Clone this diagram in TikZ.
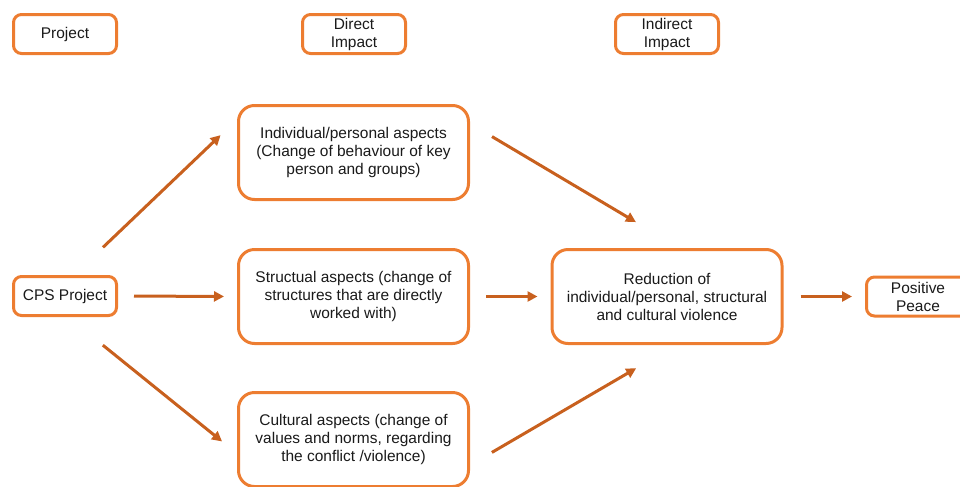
\documentclass[tikz,border=0pt]{standalone}
\usepackage{fontspec}
\setmainfont{Liberation Sans}
\usepackage{tikz}
\usetikzlibrary{calc,arrows.meta}

\definecolor{boxorange}{HTML}{ED7D31}
\definecolor{arroworange}{HTML}{C8601E}
\definecolor{textgray}{HTML}{1A1A1A}

\tikzset{
	box/.style={draw=boxorange, line width=2.25pt, fill=white, rounded corners=6pt, align=center,
		text=textgray, font=\fontsize{11.6}{13.5}\selectfont, inner sep=0pt,
		minimum width=77.25pt, minimum height=29.25pt},
	bigbox/.style={box, rounded corners=12pt, minimum width=172.5pt, minimum height=70.5pt},
	arr/.style={draw=arroworange, line width=2.25pt, -{Triangle[length=7.5pt,width=7.5pt]}}
}

\begin{document}
\begin{tikzpicture}[x=0.75pt,y=-0.75pt]
			\useasboundingbox (0,0) rectangle (960,486);
			
			% column headings
			\node[box] (project) at (65,34) {Project};
			\node[box] (direct) at (354,34) {Direct\\Impact};
			\node[box] (indirect) at (667,34) {Indirect\\Impact};
			
			\node[box] (cps) at (65,296) {CPS Project};
			
			\node[bigbox] (indiv) at (353.5,152.5) {Individual/personal aspects\\(Change of behaviour of key\\person and groups)};
			\node[bigbox] (struct) at (353.5,296.5) {Structual aspects (change of\\structures that are directly\\worked with)};
			\node[bigbox] (cult) at (353.5,439.5) {Cultural aspects (change of\\values and norms, regarding\\the conflict /violence)};
			
			\node[bigbox] (reduct) at (667,296.5) {Reduction of\\individual/personal, structural\\and cultural violence};
			
			\node[box] (peace) at (918,296.5) {Positive\\Peace};
			
			% arrows
			\draw[arr, shorten <=30pt, shorten >=17pt] ($(cps.north)+(9,0)$) -- ($(indiv.west)+(0,-33)$);
			\draw[arr, shorten <=12pt, shorten >=9.75pt] (cps.east) -- (struct.west);
			\draw[arr, shorten <=33.6pt, shorten >=14.4pt] ($(cps.south)+(3,0)$) -- ($(cult.west)+(0,14)$);
			
			\draw[arr, shorten <=19.2pt, shorten >=38pt] ($(indiv.east)+(0,-29)$) -- ($(reduct.north)+(12.5,0)$);
			\draw[arr, shorten <=12pt, shorten >=9.75pt] (struct.east) -- (reduct.west);
			\draw[arr, shorten <=19pt, shorten >=34.6pt] ($(cult.east)+(0,25.7)$) -- ($(reduct.south)+(9,0)$);
			
			\draw[arr, shorten <=12.75pt, shorten >=9.75pt] (reduct.east) -- (peace.west);
		\end{tikzpicture}
\end{document}
